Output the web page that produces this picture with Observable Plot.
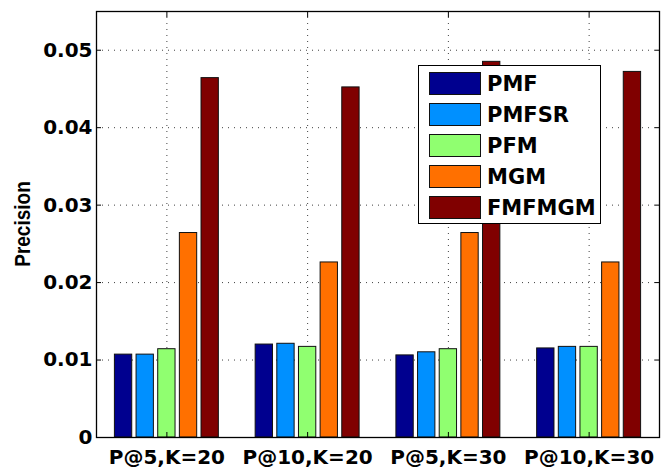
<!DOCTYPE html>
<html>
<head>
<meta charset="utf-8">
<script src="https://cdn.jsdelivr.net/npm/d3@7"></script>
<script src="https://cdn.jsdelivr.net/npm/@observablehq/plot@0.6"></script>
<style>
  html, body { margin: 0; padding: 0; background: white; }
  #wrap { position: relative; width: 661px; height: 469px; }
  #ylabel { position: absolute; left: 23px; top: 224px; transform: translate(-50%, -50%) rotate(-90deg) scale(1, 1.2);
    font-family: "Liberation Sans", Arial, sans-serif; font-weight: bold; font-size: 19px; white-space: nowrap; color: black; }
  #legend { position: absolute; left: 418px; top: 65px; width: 183px; height: 159px; background: white; border: 1px solid black; box-sizing: border-box; }
  .sw { position: absolute; width: 52px; height: 23px; box-sizing: border-box; border: 1px solid #111; }
  .lt { position: absolute; font-family: "DejaVu Sans", sans-serif; font-weight: bold; font-size: 21px; line-height: 23px; color: black; white-space: nowrap; }
</style>
</head>
<body>
<div id="wrap"></div>
<script>
const categories = ["P@5,K=20", "P@10,K=20", "P@5,K=30", "P@10,K=30"];
const seriesNames = ["PMF", "PMFSR", "PFM", "MGM", "FMFMGM"];
const PMF    = [0.0107, 0.0120, 0.0106, 0.0115];
const PMFSR  = [0.0107, 0.0121, 0.0110, 0.0117];
const PFM    = [0.0114, 0.0117, 0.0114, 0.0117];
const MGM    = [0.0264, 0.0226, 0.0264, 0.0226];
const FMFMGM = [0.0464, 0.0452, 0.0485, 0.0472];
const seriesColors = ["#00008f", "#0090ff", "#90ff70", "#ff7000", "#800000"];
const yTicks = [0, 0.01, 0.02, 0.03, 0.04, 0.05];
const xTicks = [1, 2, 3, 4];

const seriesValues = [PMF, PMFSR, PFM, MGM, FMFMGM];
const groupWidth = Math.min(0.8, seriesNames.length / (seriesNames.length + 1.5));
const step = groupWidth / seriesNames.length;
const barWidth = step * 0.8;

const table = [];
seriesNames.forEach((s, si) => {
  seriesValues[si].forEach((v, gi) => {
    const center = xTicks[gi] + (si - (seriesNames.length - 1) / 2) * step;
    table.push({series: s, category: categories[gi], value: v, x1: center - barWidth / 2, x2: center + barWidth / 2});
  });
});

const chart = Plot.plot({
  width: 661,
  height: 469,
  marginLeft: 96,
  marginRight: 2,
  marginTop: 11,
  marginBottom: 32,
  style: {fontFamily: "DejaVu Sans, sans-serif", fontWeight: "bold", fontSize: "20px", color: "black", background: "white"},
  x: {domain: [0.5, 4.5]},
  y: {domain: [0, 0.055]},
  color: {domain: seriesNames, range: seriesColors},
  marks: [
    Plot.ruleY(yTicks.filter(d => d > 0), {stroke: "#000", strokeOpacity: 0.75, strokeDasharray: "1,5"}),
    Plot.ruleX(xTicks, {stroke: "#000", strokeOpacity: 0.75, strokeDasharray: "1,5"}),
    Plot.rect(table, {x1: "x1", x2: "x2", y1: 0, y2: "value", fill: "series", stroke: "#111", strokeWidth: 1}),
    Plot.axisY({ticks: yTicks, anchor: "left", tickSize: -5, tickPadding: 9, tickFormat: d => String(d), label: null, fontSize: 20}),
    Plot.axisY({ticks: yTicks, anchor: "right", tickSize: -5, tickFormat: () => "", label: null}),
    Plot.axisX({ticks: xTicks, anchor: "bottom", tickSize: -5, tickPadding: 17, tickFormat: d => categories[d - 1], label: null, fontSize: 20}),
    Plot.axisX({ticks: xTicks, anchor: "top", tickSize: -5, tickFormat: () => "", label: null}),
    Plot.frame({stroke: "black", strokeWidth: 1.3})
  ]
});

const wrap = document.getElementById("wrap");
wrap.appendChild(chart);

const yl = document.createElement("div");
yl.id = "ylabel";
yl.textContent = "Precision";
wrap.appendChild(yl);

const legend = document.createElement("div");
legend.id = "legend";
seriesNames.forEach((s, i) => {
  const sw = document.createElement("div");
  sw.className = "sw";
  sw.style.left = "10px";
  sw.style.top = (6 + i * 31) + "px";
  sw.style.background = seriesColors[i];
  legend.appendChild(sw);
  const t = document.createElement("div");
  t.className = "lt";
  t.style.left = "68px";
  t.style.top = (7 + i * 31) + "px";
  t.textContent = s;
  legend.appendChild(t);
});
wrap.appendChild(legend);
</script>
</body>
</html>
